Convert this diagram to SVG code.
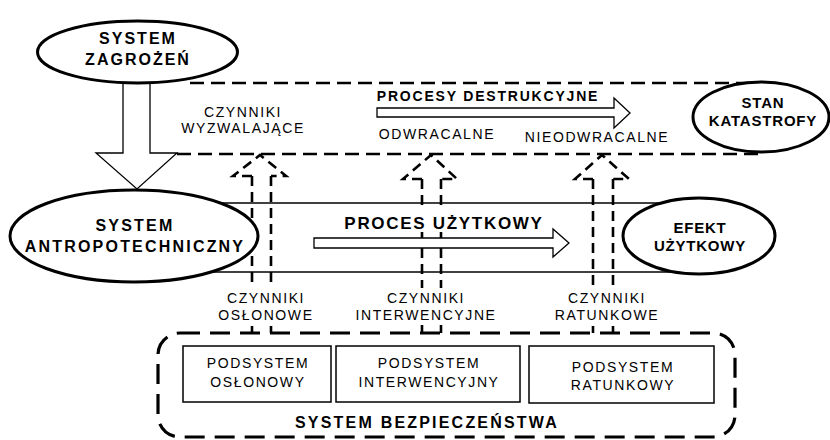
<svg xmlns="http://www.w3.org/2000/svg" width="830" height="440" viewBox="0 0 830 440">
<style>
  .bg{fill:#fff}
  .ell{fill:#fff;stroke:#000;stroke-width:3}
  .box{fill:#fff;stroke:#000;stroke-width:1.5}
  .hollow{fill:#fff;stroke:#000;stroke-width:1.3}
  .band{stroke:#000;stroke-width:1.5;fill:none}
  .dashT{stroke:#000;stroke-width:2.6;fill:none;stroke-dasharray:14 7}
  .dashA{stroke:#000;stroke-width:2.6;fill:none;stroke-dasharray:10 6}
  .dashB{stroke:#000;stroke-width:3.2;fill:none;stroke-dasharray:20 10}
  text{font-family:"Liberation Sans",Arial,sans-serif;fill:#000;text-anchor:middle}
  .b{font-weight:bold;font-size:16px;letter-spacing:2px}
  .bs{font-weight:bold;font-size:15px;letter-spacing:0.8px}
  .r{font-size:14px;letter-spacing:1.6px}
</style>
<rect class="bg" x="0" y="0" width="830" height="440"/>

<g id="connectors">
  <!-- dashed destructive zone -->
  <line class="dashT" x1="190" y1="83" x2="760" y2="83"/>
  <line class="dashT" x1="177" y1="154" x2="760" y2="154"/>
  <!-- usable process band -->
  <line class="band" x1="200" y1="203" x2="700" y2="203"/>
  <line class="band" x1="200" y1="272" x2="700" y2="272"/>
  <!-- dashed up arrow 1 -->
  <polyline class="dashA" points="252,176 233,176 260,155 286,176 271,176"/>
  <line class="dashA" x1="252" y1="176" x2="252" y2="288"/>
  <line class="dashA" x1="271" y1="176" x2="271" y2="288"/>
  <line class="dashA" x1="252" y1="326" x2="252" y2="333"/>
  <line class="dashA" x1="271" y1="326" x2="271" y2="333"/>
  <!-- dashed up arrow 2 -->
  <polyline class="dashA" points="422,179 403,179 431,155 457,179 441,179"/>
  <line class="dashA" x1="422" y1="179" x2="422" y2="211"/>
  <line class="dashA" x1="441" y1="179" x2="441" y2="211"/>
  <line class="dashA" x1="422" y1="232" x2="422" y2="288"/>
  <line class="dashA" x1="441" y1="232" x2="441" y2="288"/>
  <line class="dashA" x1="422" y1="325" x2="422" y2="333"/>
  <line class="dashA" x1="441" y1="325" x2="441" y2="333"/>
  <!-- dashed up arrow 3 -->
  <polyline class="dashA" points="593,179 575,179 602,155 629,179 613,179"/>
  <line class="dashA" x1="593" y1="179" x2="593" y2="288"/>
  <line class="dashA" x1="613" y1="179" x2="613" y2="288"/>
  <line class="dashA" x1="593" y1="326" x2="593" y2="333"/>
  <line class="dashA" x1="613" y1="326" x2="613" y2="333"/>
  <!-- big hollow arrow down -->
  <polygon class="hollow" points="123,70 150,70 150,153 177,153 137,189 96,153 123,153"/>
  <!-- process arrows -->
  <polygon class="hollow" points="377,108 614,108 614,98 630,113 614,128 614,117 377,117"/>
  <polygon class="hollow" points="314,238 553,238 553,229 569,243 553,257 553,248 314,248"/>
</g>

<g id="labels">
  <text class="r" x="243" y="117">CZYNNIKI</text>
  <text class="r" x="243" y="133">WYZWALAJĄCE</text>
  <text class="b" x="488" y="101" style="font-size:14px;letter-spacing:1.8px">PROCESY DESTRUKCYJNE</text>
  <text class="r" x="437" y="139">ODWRACALNE</text>
  <text class="r" x="597" y="142">NIEODWRACALNE</text>
  <text class="b" x="444" y="229" style="font-size:17px;letter-spacing:1.7px">PROCES UŻYTKOWY</text>
  <text class="r" x="266" y="303">CZYNNIKI</text>
  <text class="r" x="266" y="320">OSŁONOWE</text>
  <text class="r" x="426" y="303">CZYNNIKI</text>
  <text class="r" x="426" y="320">INTERWENCYJNE</text>
  <text class="r" x="607" y="303">CZYNNIKI</text>
  <text class="r" x="607" y="320">RATUNKOWE</text>
</g>

<g id="system-zagrozen">
  <ellipse class="ell" cx="137.5" cy="52" rx="100" ry="31"/>
  <text class="b" x="138" y="44">SYSTEM</text>
  <text class="b" x="138" y="65">ZAGROŻEŃ</text>
</g>

<g id="stan-katastrofy">
  <ellipse class="ell" cx="761" cy="117" rx="68" ry="35"/>
  <text class="bs" x="763" y="108">STAN</text>
  <text class="bs" x="763" y="126">KATASTROFY</text>
</g>

<g id="system-antropotechniczny">
  <ellipse class="ell" cx="134" cy="236" rx="124" ry="46"/>
  <text class="b" x="135" y="231" style="letter-spacing:2.2px">SYSTEM</text>
  <text class="b" x="135" y="252" style="letter-spacing:2.2px">ANTROPOTECHNICZNY</text>
</g>

<g id="efekt-uzytkowy">
  <ellipse class="ell" cx="699" cy="236" rx="76" ry="38"/>
  <text class="bs" x="700" y="233">EFEKT</text>
  <text class="bs" x="700" y="251">UŻYTKOWY</text>
</g>

<g id="system-bezpieczenstwa">
  <rect class="dashB" x="158" y="333" width="577" height="104" rx="22" ry="22"/>
  <text class="b" x="427" y="428" style="letter-spacing:2.2px">SYSTEM BEZPIECZEŃSTWA</text>
</g>

<g id="podsystem-oslonowy">
  <rect class="box" x="183" y="346" width="148" height="56"/>
  <text class="r" x="258" y="368">PODSYSTEM</text>
  <text class="r" x="258" y="387">OSŁONOWY</text>
</g>

<g id="podsystem-interwencyjny">
  <rect class="box" x="336" y="346" width="184" height="56"/>
  <text class="r" x="429" y="368">PODSYSTEM</text>
  <text class="r" x="429" y="387">INTERWENCYJNY</text>
</g>

<g id="podsystem-ratunkowy">
  <rect class="box" x="529" y="346" width="185" height="57"/>
  <text class="r" x="623" y="372">PODSYSTEM</text>
  <text class="r" x="623" y="390">RATUNKOWY</text>
</g>
</svg>
